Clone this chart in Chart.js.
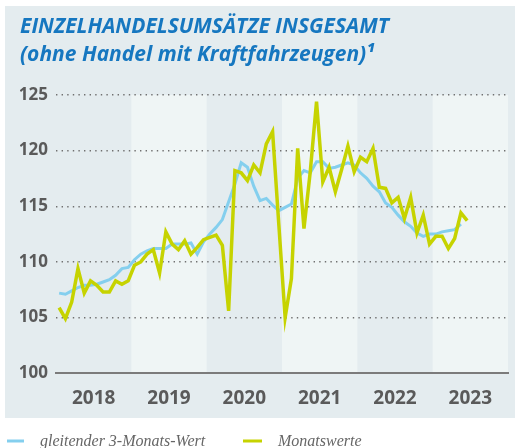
<!DOCTYPE html>
<html>
<head>
<meta charset="utf-8">
<script src="https://cdn.jsdelivr.net/npm/chart.js@4.4.1/dist/chart.umd.min.js"></script>
<style>
  body { margin: 0; background: #fff; }
</style>
</head>
<body>
<canvas id="umsatzChart" width="515" height="448"></canvas>
<script>
const years = ['2018', '2019', '2020', '2021', '2022', '2023'];

// Monatswerte, Jan 2018 bis Jun 2023
const monatswerte = [
    105.9, 104.9, 106.4, 109.4, 107.2, 108.3, 107.9, 107.3, 107.3, 108.3, 108.0, 108.3,
    109.7, 110.0, 110.7, 111.1, 109.0, 112.7, 111.6, 111.1, 111.9, 110.7, 111.3, 112.0,
    112.2, 112.4, 111.5, 105.6, 118.2, 118.0, 117.3, 118.7, 118.0, 120.6, 121.7, 113.3,
    105.0, 108.5, 120.2, 113.0, 118.1, 124.4, 117.2, 118.5, 116.3, 118.3, 120.4, 118.1,
    119.4, 119.0, 120.2, 116.7, 116.6, 115.3, 115.8, 113.9, 115.8, 112.6, 114.2, 111.6,
    112.3, 112.3, 111.2, 112.1, 114.4, 113.7
];

// gleitender 3-Monats-Wert, Jan 2018 bis Mai 2023
const gleitend = [
    107.2, 107.1, 107.4, 107.7, 107.9, 107.9, 108.0, 108.2, 108.4, 108.8, 109.4, 109.5,
    110.2, 110.7, 111.0, 111.2, 111.2, 111.2, 111.6, 111.6, 111.6, 111.7, 110.7, 111.8,
    112.5, 113.1, 113.8, 115.4, 117.0, 118.9, 118.5, 116.8, 115.5, 115.7, 115.1, 114.6,
    114.9, 115.2, 117.5, 118.2, 118.0, 119.0, 119.0, 118.4, 118.5, 118.7, 118.9, 118.7,
    118.0, 117.5, 116.8, 116.3, 115.3, 114.9, 114.2, 113.6, 113.2, 112.6, 112.3, 112.5,
    112.5, 112.7, 112.8, 112.9, 113.4
];

const yTicks = [100, 105, 110, 115, 120, 125];

const BLUE = '#84cfee';
const GREEN = '#c6d300';
const PANEL = '#e4ecef';
const BAND = '#eff5f5';

// months sit in the middle of their slot on the x scale
const toPoints = (arr) => arr.map((v, i) => ({x: i + 0.5, y: v}));

const panel = {
    id: 'panel',
    beforeDraw(chart) {
        const {ctx, chartArea: {top, bottom}, scales: {x}} = chart;
        ctx.save();
        ctx.fillStyle = PANEL;
        ctx.fillRect(5, 6, chart.width - 5, 412);
        // every second year gets a lighter band
        ctx.fillStyle = BAND;
        years.forEach((yr, k) => {
            if (k % 2 === 1) {
                const x0 = x.getPixelForValue(k * 12);
                const x1 = x.getPixelForValue(k * 12 + 12);
                ctx.fillRect(x0, top, x1 - x0, bottom - top);
            }
        });
        ctx.restore();
    }
};

const legendLine = {
    id: 'legendLine',
    afterDraw(chart) {
        const {ctx} = chart;
        const items = [
            {label: chart.data.datasets[0].label, color: BLUE, x0: 7, x1: 24, tx: 40},
            {label: chart.data.datasets[1].label, color: GREEN, x0: 243, x1: 262, tx: 278}
        ];
        ctx.save();
        ctx.font = 'italic 16px "Liberation Serif"';
        ctx.textBaseline = 'alphabetic';
        items.forEach(it => {
            ctx.strokeStyle = it.color;
            ctx.lineWidth = 3;
            ctx.beginPath();
            ctx.moveTo(it.x0, 441);
            ctx.lineTo(it.x1, 441);
            ctx.stroke();
            ctx.fillStyle = '#666';
            ctx.fillText(it.label, it.tx, 446);
        });
        ctx.restore();
    }
};

new Chart(document.getElementById('umsatzChart'), {
    type: 'line',
    data: {
        datasets: [{
            label: 'gleitender 3-Monats-Wert',
            data: toPoints(gleitend),
            borderColor: BLUE,
            borderWidth: 3,
            pointRadius: 0,
            order: 1
        }, {
            label: 'Monatswerte',
            data: toPoints(monatswerte),
            borderColor: GREEN,
            borderWidth: 3.5,
            pointRadius: 0,
            order: 0
        }]
    },
    options: {
        responsive: false,
        animation: false,
        layout: {padding: {left: 20, right: 7, top: 0, bottom: 0}},
        plugins: {
            legend: {display: false},
            tooltip: {enabled: false},
            title: {
                display: true,
                text: ['EINZELHANDELSUMSÄTZE INSGESAMT', '(ohne Handel mit Kraftfahrzeugen)¹'],
                align: 'start',
                color: '#1677c0',
                font: {family: '"Open Sans"', size: 21, weight: 'bold', style: 'italic', lineHeight: 1.33},
                padding: {top: 13, bottom: 26}
            }
        },
        scales: {
            x: {
                type: 'linear',
                min: 0,
                max: 72,
                afterBuildTicks(scale) {
                    scale.ticks = years.map((y, k) => ({value: k * 12 + 6}));
                },
                afterFit(scale) {
                    scale.height = 74.7;
                },
                ticks: {
                    callback: (v) => years[(v - 6) / 12],
                    color: '#5a5a5a',
                    font: {family: '"Open Sans"', size: 19, weight: 'bold'},
                    padding: 6,
                    maxRotation: 0
                },
                grid: {display: false},
                border: {display: true, color: '#7b7b7b', width: 2}
            },
            y: {
                min: 100,
                max: 125,
                afterBuildTicks(scale) {
                    scale.ticks = yTicks.map(v => ({value: v}));
                },
                afterFit(scale) {
                    scale.width = 36;
                },
                ticks: {
                    color: '#5a5a5a',
                    font: {family: '"Open Sans"', size: 17, weight: 'bold'},
                    padding: 8
                },
                grid: {
                    drawTicks: false,
                    color: (c) => c.tick && c.tick.value === 100 ? 'rgba(0,0,0,0)' : '#707070',
                    lineWidth: 1.4
                },
                border: {display: false, dash: [1.4, 4.2]}
            }
        }
    },
    plugins: [panel, legendLine]
});
</script>
</body>
</html>
